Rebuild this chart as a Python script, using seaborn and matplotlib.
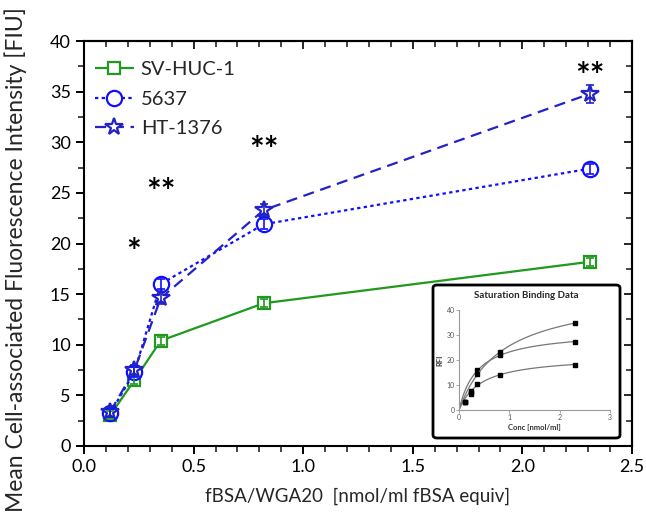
import matplotlib
matplotlib.use("Agg")
import matplotlib.pyplot as plt
from matplotlib.ticker import MultipleLocator, NullFormatter
from matplotlib.patches import FancyBboxPatch
import numpy as np
import pandas as pd
import seaborn as sns

# ---- data ----
conc = [0.12, 0.23, 0.35, 0.82, 2.31]
sv_huc1 = [3.05, 6.5, 10.4, 14.1, 18.2]
sv_err = [0.4, 0.4, 0.4, 0.4, 0.4]
c5637 = [3.25, 7.3, 16.0, 21.9, 27.4]
c5637_err = [0.4, 0.5, 0.5, 0.5, 0.5]
ht1376 = [3.4, 7.5, 14.6, 23.3, 34.8]
ht_err = [0.5, 0.5, 0.6, 0.6, 0.9]
series_names = ["SV-HUC-1", "5637", "HT-1376"]
stars_x = [0.225, 0.35, 0.82, 2.31]
stars_y = [19.1, 25.0, 29.1, 36.4]
stars_txt = ["*", "**", "**", "**"]
# inset one-site binding fit parameters (Bmax, Kd)
fit_bmax = [21.7, 31.8, 47.8]
fit_kd = [0.44, 0.371, 0.863]

sns.set_theme(style="ticks")
plt.rcParams['font.family'] = ['Lato', 'DejaVu Sans']

fig = plt.figure(figsize=(6.46, 5.15), dpi=100)
ax = fig.add_axes([84/646, 1-446/515, (632-84)/646, (446-41)/515])

colors = ["#1f9a1f", "#1010ff", "#2222c8"]
markers = ["s", "o", "*"]
lstyles = [(0, ()), (0, (1.5, 1.5)), (0, (5, 3))]
msizes = [9, 11, 13]
ys = [sv_huc1, c5637, ht1376]
errs = [sv_err, c5637_err, ht_err]

handles = []
for name, y, e, c, m, ls, ms in zip(series_names, ys, errs, colors, markers, lstyles, msizes):
    df = pd.DataFrame({"x": conc, "y": y})
    sns.lineplot(data=df, x="x", y="y", ax=ax, color=c, linestyle=ls, linewidth=1.6,
                 marker=m, markersize=ms, markerfacecolor="white", markeredgecolor=c,
                 markeredgewidth=1.6, zorder=3)
    ax.errorbar(conc, y, yerr=e, fmt="none", ecolor=c, elinewidth=1.2, capsize=3, capthick=1.2, zorder=4)
    h, = ax.plot([], [], color=c, linestyle=ls, linewidth=1.6, marker=m, markersize=ms,
                 markerfacecolor="white", markeredgecolor=c, markeredgewidth=1.6)
    handles.append(h)

leg = ax.legend(handles, series_names, loc="upper left", frameon=False, fontsize=14.5,
                handlelength=1.9, bbox_to_anchor=(-0.005, 0.985), labelspacing=0.62,
                handletextpad=0.35, borderaxespad=0.3)

for sx, sy, st in zip(stars_x, stars_y, stars_txt):
    ax.text(sx, sy, st, ha="center", va="center", fontsize=25, color="black", fontweight="bold")

ax.set_xlim(0, 2.5)
ax.set_ylim(0, 40)
ax.set_xticks([0, 0.5, 1.0, 1.5, 2.0, 2.5])
ax.set_xticklabels(["0.0", "0.5", "1.0", "1.5", "2.0", "2.5"])
ax.xaxis.set_minor_locator(MultipleLocator(0.1))
ax.yaxis.set_major_locator(MultipleLocator(5))
ax.yaxis.set_minor_locator(MultipleLocator(2.5))
for s in ax.spines.values():
    s.set_visible(True)
    s.set_linewidth(1.5)
    s.set_color("black")
ax.tick_params(axis="both", which="major", length=6, width=1.4, direction="out", labelsize=13, colors="black")
ax.tick_params(axis="both", which="minor", length=4, width=1.2, direction="out")

# top and right inward ticks
secx = ax.secondary_xaxis("top")
secx.set_xticks([0, 0.5, 1.0, 1.5, 2.0, 2.5])
secx.xaxis.set_minor_locator(MultipleLocator(0.1))
secx.xaxis.set_major_formatter(NullFormatter())
secx.tick_params(which="major", direction="in", length=6, width=1.4)
secx.tick_params(which="minor", direction="in", length=4, width=1.2)
secx.spines["top"].set_linewidth(1.5)
secy = ax.secondary_yaxis("right")
secy.yaxis.set_major_locator(MultipleLocator(5))
secy.yaxis.set_minor_locator(MultipleLocator(2.5))
secy.yaxis.set_major_formatter(NullFormatter())
secy.tick_params(which="major", direction="in", length=6, width=1.4)
secy.tick_params(which="minor", direction="in", length=4, width=1.2)
secy.spines["right"].set_linewidth(1.5)

ax.set_xlabel("fBSA/WGA20  [nmol/ml fBSA equiv]", fontsize=13.5, labelpad=9)
ax.set_ylabel("Mean Cell-associated Fluorescence Intensity [FIU]", fontsize=16.5)
ax.yaxis.set_label_coords(-0.104, 0.46)

# ---- inset ----
frame = FancyBboxPatch((433/646, 1-438/515), (620-433)/646, (438-285)/515,
                       boxstyle="round,pad=0,rounding_size=0.006", transform=fig.transFigure,
                       facecolor="white", edgecolor="black", linewidth=2, zorder=5)
fig.patches.append(frame)
fig.text((433+620)/2/646, 1-295/515, "Saturation Binding Data", ha="center", va="center",
         fontsize=7, fontweight="bold", zorder=6)
iax = fig.add_axes([459/646, 1-410/515, (610-459)/646, (410-310)/515], zorder=6)
iax.patch.set_alpha(0)
xx = np.linspace(0, 2.31, 100)
for y, bm, kd in zip(ys, fit_bmax, fit_kd):
    sns.lineplot(x=xx, y=bm*xx/(kd+xx), ax=iax, color="#777777", linewidth=0.9)
    iax.plot(conc, y, linestyle="none", marker="s", markersize=2.5, color="black")
iax.set_xlim(0, 3)
iax.set_ylim(0, 40)
iax.set_xticks([0, 1, 2, 3])
iax.set_yticks([0, 10, 20, 30, 40])
for k in ["top", "right"]:
    iax.spines[k].set_visible(False)
for k in ["left", "bottom"]:
    iax.spines[k].set_color("#999999")
    iax.spines[k].set_linewidth(0.8)
iax.tick_params(length=2, width=0.6, colors="#999999", labelsize=5, pad=1)
for lbl in iax.get_xticklabels() + iax.get_yticklabels():
    lbl.set_color("#555555")
iax.set_xlabel("Conc [nmol/ml]", fontsize=5.5, fontweight="bold", labelpad=2, color="#333333")
iax.set_ylabel("RFI", fontsize=5.5, fontweight="bold", labelpad=2, color="#333333")

fig.savefig("out.png", dpi=100)
